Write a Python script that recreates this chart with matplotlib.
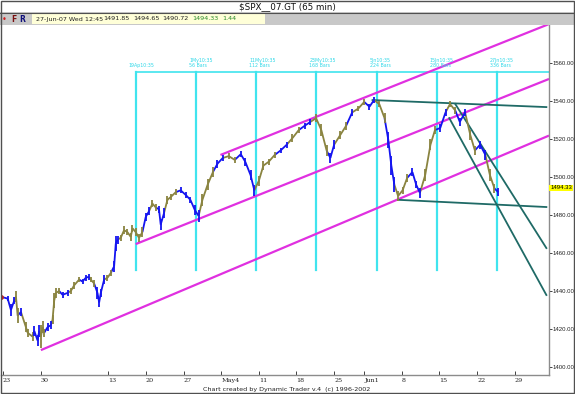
import matplotlib
matplotlib.use("Agg")
import matplotlib.pyplot as plt
from matplotlib.collections import LineCollection
from matplotlib.patches import Rectangle
import matplotlib.transforms as mtransforms

# ---------------- data (x = trading-session index, Mar 23 2007 = 0) ----------------
price_day = [0.24, 1.13, 1.56, 2.0, 2.23, 2.45, 2.89, 3.55, 3.78, 4.44, 4.66, 5.1, 5.32, 5.54,
             5.77, 5.98, 6.43, 6.87, 7.09, 7.31, 7.53, 7.97, 8.42, 9.08, 9.52, 9.96, 10.62,
             11.07, 11.51, 11.95, 12.17, 12.61, 13.06, 13.28, 13.5, 13.94, 14.39, 14.83, 15.27,
             15.49, 15.72, 16.15, 16.59, 17.04, 17.48, 17.71, 18.14, 18.58, 19.03, 19.47, 19.91,
             20.36, 20.8, 21.23, 21.46, 21.9, 22.35, 22.8, 23.45, 24.11, 24.8, 25.4, 26.0, 26.5,
             27.0, 27.7, 28.4, 29.0, 29.7, 30.5, 31.3, 32.1, 32.7, 33.4, 33.9, 34.5, 35.1, 35.8,
             36.6, 37.4, 38.2, 38.97, 39.8, 40.6, 41.35, 42.1, 42.8, 43.5, 44.0, 44.5, 45.3, 46.1,
             46.9, 47.7, 48.5, 49.2, 49.8, 50.5, 51.2, 51.7, 52.1, 52.5, 53.0, 53.6, 54.2, 54.9,
             55.4, 55.9, 56.6, 57.3, 57.9, 58.6, 59.3, 59.9, 60.6, 61.2, 61.9, 62.6, 63.2, 63.9,
             64.6, 65.2, 65.8, 66.3]
price_val = [1437, 1436, 1430, 1435, 1437, 1427, 1429, 1421, 1418, 1416, 1419, 1414, 1419, 1416,
             1421, 1418, 1421, 1422, 1425, 1435, 1439, 1440, 1438, 1439, 1440, 1443, 1446,
             1445, 1447, 1447.5, 1446, 1444, 1439, 1434, 1439, 1446, 1447, 1449.5, 1453,
             1465, 1467, 1468, 1472, 1471, 1468.5, 1473, 1471, 1468, 1471, 1479, 1482,
             1486, 1484, 1483, 1475, 1481, 1488, 1489.5, 1492, 1493, 1490.5, 1488, 1482.6, 1479.5,
             1488, 1496, 1502.6, 1507, 1510, 1511, 1509, 1512, 1508, 1501, 1493, 1498, 1506, 1508,
             1511.6, 1514, 1517, 1520.5, 1524.7, 1527, 1529, 1531, 1524.7, 1514, 1510, 1517, 1522, 1527,
             1534, 1536, 1539.5, 1537, 1540.5, 1538.4, 1531, 1519.5, 1506, 1496, 1490, 1493, 1499.5, 1502.6,
             1496, 1491.6, 1501, 1517, 1524.7, 1525.8, 1534, 1538.4, 1535, 1529, 1534, 1522, 1514, 1517,
             1511.6, 1501, 1494, 1492]
price_range = [4, 3, 6, 4, 6, 8, 4, 5, 4, 5, 5, 6, 6, 12,
               6, 4, 4, 4, 5, 8, 5, 3, 3, 3, 3, 4, 3,
               3, 3, 3, 3, 4, 6, 5, 4, 5, 3, 3, 6,
               8, 4, 3, 4, 3, 4, 4, 4, 4, 5, 4, 4,
               4, 4, 4, 6, 5, 4, 3, 3, 3, 3, 3, 5, 6,
               6, 6, 5, 4, 3, 3, 3, 3, 4, 5, 6, 5, 5, 3,
               3, 3, 3, 4, 3, 3, 3, 4, 6, 6, 5, 5, 4, 4,
               4, 3, 3, 3, 3, 3, 5, 8, 10, 8, 5, 4, 4, 4,
               4, 5, 6, 6, 4, 4, 4, 3, 4, 4, 4, 5, 5, 4,
               5, 6, 5, 4]
price_col = ("bbbboobooobbbo" + "oobboooobbooo" + "bbboobbbboob" + "bboooooooobb"
             + "oobbbooobbbbb" + "ooobboobbbbooo" + "obboobbooobboo"
             + "boobboobbbooob" + "bbooobboobboob" + "boob")

# channel / trend lines: (day0, price0, day1, price1)
magenta_lines = [(5.54, 1408.9, 73.05, 1521.8),
                 (18.14, 1464.7, 73.05, 1551.6),
                 (29.4, 1511.6, 73.05, 1580.5)]
teal_lines = [(49.6, 1540.5, 72.7, 1536.8),
              (53.0, 1488.0, 72.7, 1484.2),
              (60.6, 1538.4, 72.7, 1462.6),
              (59.8, 1531.0, 72.7, 1437.9)]

cycle_days = [18.14, 26.14, 34.14, 42.14, 50.14, 58.14, 66.14]
cycle_labels = ["19Ap10:35", "1My10:35\n56 Bars", "11My10:35\n112 Bars", "23My10:35\n168 Bars",
                "5Jn10:35\n224 Bars", "15Jn10:35\n280 Bars", "27Jn10:35\n336 Bars"]
cycle_low, cycle_high = 1451.0, 1555.3

tick_days = [0, 5, 14, 19, 24, 29, 34, 39, 44, 48, 53, 58, 63, 68]
tick_labels = ["23", "30", "13", "20", "27", "May4", "11", "18", "25", "Jun1", "8", "15", "22", "29"]
y_ticks = [1400, 1420, 1440, 1460, 1480, 1500, 1520, 1540, 1560]

last_price = 1494.33
info_fields = ["27-Jun-07 Wed 12:45", "1491.85", "1494.65", "1490.72", "1494.33", "1.44"]

# ---------------- figure ----------------
W, H = 575, 394
fig = plt.figure(figsize=(W / 100, H / 100), dpi=100)
fig.patch.set_facecolor("white")

def fx(px):
    return px / W

def fy(py):
    return 1 - py / H

ax = fig.add_axes([fx(1), fy(375), fx(548), 350 / H])
ax.set_xlim(0.24, 73.05)
ax.set_ylim(1395.8, 1580.0)
ax.set_facecolor("white")

BLUE = "#1414F0"
OLIVE = "#8A8440"
MAG = "#E030E0"
CYAN = "#40E4EE"
TEAL = "#1F6A66"
NARROW = ["Liberation Sans Narrow", "Liberation Sans", "DejaVu Sans"]

# magenta channels
for d0, p0, d1, p1 in magenta_lines:
    ax.plot([d0, d1], [p0, p1], color=MAG, lw=1.6, solid_capstyle="butt", zorder=2)

# cyan cycle lines
ax.plot([cycle_days[0], 73.05], [cycle_high, cycle_high], color=CYAN, lw=1.2, zorder=1)
for d, lab in zip(cycle_days, cycle_labels):
    ax.plot([d, d], [cycle_low, cycle_high], color=CYAN, lw=1.6, zorder=1)
    ax.annotate(lab, xy=(d, cycle_high), xytext=(-5, 2.5), textcoords="offset points",
                ha="left", va="bottom", fontsize=3.4, color="#30D8E8", linespacing=1.0)

# teal lines
for d0, p0, d1, p1 in teal_lines:
    ax.plot([d0, d1], [p0, p1], color=TEAL, lw=1.3, zorder=2)

# price path (bars + connecting line)
col_of = {"b": BLUE, "o": OLIVE}
segs, cols = [], []
for i in range(1, len(price_day)):
    segs.append([(price_day[i - 1], price_val[i - 1]), (price_day[i], price_val[i])])
    cols.append(col_of[price_col[i]])
ax.add_collection(LineCollection(segs, colors=cols, linewidths=1.3, zorder=3))
ax.vlines(price_day, [p - r / 2 for p, r in zip(price_val, price_range)],
          [p + r / 2 for p, r in zip(price_val, price_range)],
          colors=[col_of[c] for c in price_col[:len(price_day)]], lw=1.3, zorder=3)

ax.plot([price_day[0]], [price_val[0]], marker="o", ms=2.5, color="#C02020", zorder=4)

# axes styling
for s in ["left", "top"]:
    ax.spines[s].set_visible(False)
for s in ["right", "bottom"]:
    ax.spines[s].set_color("#8C8C8C")
    ax.spines[s].set_linewidth(1.0)

ax.yaxis.tick_right()
ax.set_yticks(y_ticks)
ax.set_yticklabels([f"{v:.2f}" for v in y_ticks])
ax.tick_params(axis="y", direction="out", length=2.0, width=0.6, pad=0.2, labelsize=4.3,
               colors="#222222")
for t in ax.get_yticklabels():
    t.set_fontfamily(NARROW)
ax.set_xticks([d + 0.5 for d in tick_days])
ax.set_xticklabels(tick_labels)
ax.tick_params(axis="x", direction="in", length=3, width=0.6, pad=2, labelsize=4.6,
               colors="#222222")
for t in ax.get_xticklabels():
    t.set_ha("left")
    t.set_fontfamily("DejaVu Serif")

# last-price box on right axis
trans = mtransforms.blended_transform_factory(ax.transAxes, ax.transData)
ax.text(1.002, last_price, f"{last_price:.2f}", transform=trans, ha="left", va="center",
        fontsize=4.3, family=NARROW, color="black", clip_on=False,
        bbox=dict(boxstyle="square,pad=0.1", fc="#FFFF00", ec="none"))

# ---------------- header ----------------
fig.patches.append(Rectangle((0, fy(25)), 1, (25 - 12) / H, transform=fig.transFigure,
                             fc="#C8C8C8", ec="none", zorder=0))
fig.patches.append(Rectangle((fx(32), fy(24)), fx(233), 10 / H, transform=fig.transFigure,
                             fc="#FFFFD8", ec="none", zorder=1))
fig.add_artist(plt.Line2D([0, 1], [fy(12.5), fy(12.5)], transform=fig.transFigure,
                          color="#505050", lw=0.8))
fig.text(0.5, fy(7), "$SPX__07.GT (65 min)", ha="center", va="center", fontsize=6.3,
         color="#111111")
fig.text(fx(4), fy(19), "•", ha="center", va="center", fontsize=6, color="#D02020")
fig.text(fx(14), fy(19), "F", ha="center", va="center", fontsize=5.5, color="#7A1010",
         fontweight="bold")
fig.text(fx(22), fy(19), "R", ha="center", va="center", fontsize=5.5, color="#10107A",
         fontweight="bold")
info_x = [36, 103, 133, 162, 192, 222]
for xx, txt, k in zip(info_x, info_fields, range(6)):
    fig.text(fx(xx), fy(19), txt, ha="left", va="center", fontsize=4.6,
             color="#2A8A2A" if k >= 4 else "#222222")

fig.text(fx(287), fy(389), "Chart created by Dynamic Trader v.4  (c) 1996-2002", ha="center",
         va="center", fontsize=4.6, color="#222222")

# outer frame
fig.patches.append(Rectangle((0.0015, 0.002), 0.997, 0.996, transform=fig.transFigure,
                             fc="none", ec="#505050", lw=1.0, zorder=5))

fig.savefig("out.png", dpi=100)
